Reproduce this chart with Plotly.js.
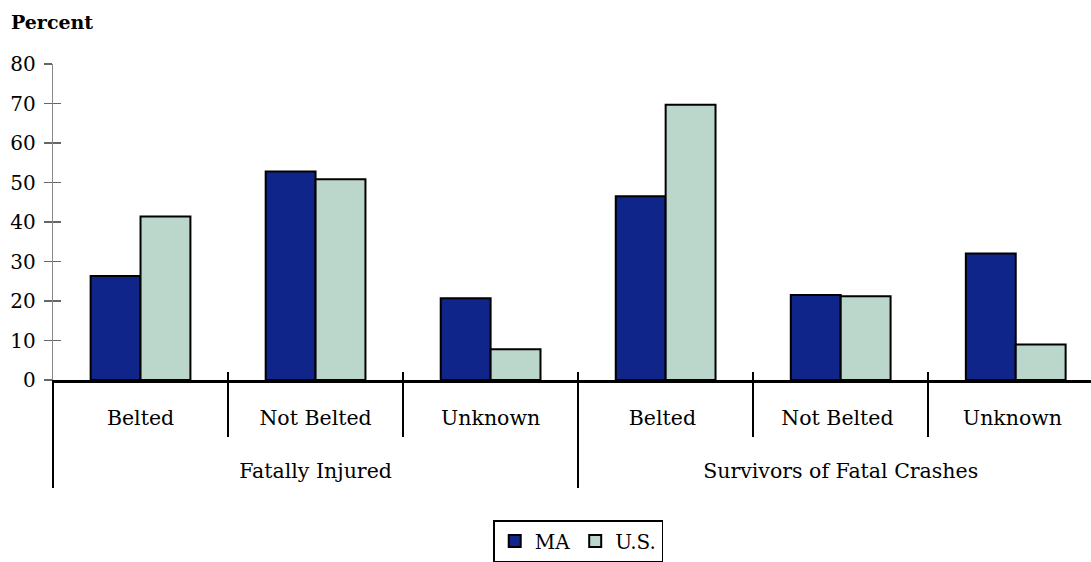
<!DOCTYPE html>
<html><head><meta charset="utf-8">
<script src="https://cdn.plot.ly/plotly-3.0.1.min.js"></script>
<style>body{margin:0;background:#fff}#c{width:1091px;height:562px}</style>
</head><body><div id="c"></div>
<script>
const groupLabels = ["Fatally Injured", "Survivors of Fatal Crashes"];
const groupCenters = [1, 4];
const groupBoundaries = [-0.5, 2.5, 5.5];
const categories = ["Belted","Not Belted","Unknown","Belted ","Not Belted ","Unknown "];
const maValues = [26.3, 52.8, 20.7, 46.5, 21.5, 32.0];
const usValues = [41.4, 50.8, 7.8, 69.7, 21.2, 9.0];
const yTicks = [0,10,20,30,40,50,60,70,80];

const F = "DejaVu Serif";
const XR = [-0.5, 5.43];
const traces = [
  {type:'bar', name:'MA', x:categories, y:maValues, marker:{color:'#10258a', line:{color:'#000', width:2}}},
  {type:'bar', name:'U.S.', x:categories, y:usValues, marker:{color:'#bbd6cb', line:{color:'#000', width:2}}},
  {type:'bar', x:categories, y:maValues, xaxis:'x2', yaxis:'y2', opacity:0, showlegend:false, hoverinfo:'skip', marker:{color:'rgba(0,0,0,0)'}},
  {type:'scatter', mode:'none', x:groupCenters, y:[0,0], xaxis:'x3', yaxis:'y', showlegend:false, hoverinfo:'skip'},
  {type:'scatter', mode:'none', x:groupCenters, y:[0,0], xaxis:'x4', yaxis:'y', showlegend:false, hoverinfo:'skip'}
];
const layout = {
  width:1091, height:562,
  margin:{l:53, r:0, t:64, b:182},
  paper_bgcolor:'#fff', plot_bgcolor:'#fff',
  font:{family:F, size:20, color:'#000'},
  barmode:'group', bargap:0.43, bargroupgap:0,
  showlegend:true,
  legend:{orientation:'h', x:0.506, xanchor:'center', y:-0.445, yanchor:'top',
    bordercolor:'#000', borderwidth:1.5, font:{family:F, size:20}, tracegroupgap:0},
  xaxis:{type:'category', range:XR, showgrid:false, showline:true, linecolor:'#000', linewidth:2.5,
    ticks:'outside', tickson:'boundaries', ticklen:54, tickwidth:2, tickcolor:'#000',
    tickfont:{family:F, size:20.5}, ticklabelstandoff:18, zeroline:false},
  xaxis2:{type:'category', overlaying:'x', matches:'x', range:XR, showgrid:false, showline:false,
    ticks:'inside', tickson:'boundaries', ticklen:8, tickwidth:2, tickcolor:'#000', showticklabels:false},
  xaxis3:{type:'linear', overlaying:'x', anchor:'y', range:XR, showgrid:false, showline:false, zeroline:false,
    tickmode:'array', tickvals:groupBoundaries, ticks:'outside', ticklen:107, tickwidth:2, tickcolor:'#000', showticklabels:false},
  xaxis4:{type:'linear', overlaying:'x', anchor:'y', range:XR, showgrid:false, showline:false, zeroline:false,
    tickmode:'array', tickvals:groupCenters, ticktext:groupLabels, ticks:'', tickfont:{family:F, size:20.5}, ticklabelstandoff:76},
  yaxis:{range:[0,80], tickvals:yTicks, showgrid:false, zeroline:false, showline:true, linecolor:'#888', linewidth:1.2,
    ticks:'outside', ticklen:8, tickcolor:'#666', tickwidth:1.2, tickfont:{family:F, size:20}, ticklabelstandoff:4},
  yaxis2:{range:[0,80], tickvals:yTicks, overlaying:'y', matches:'y', showgrid:false, zeroline:false, showline:false,
    ticks:'inside', ticklen:8, tickcolor:'#666', tickwidth:1.2, showticklabels:false},
  annotations:[{text:'<b>Percent</b>', xref:'paper', yref:'paper', x:-0.042, y:1.133, xanchor:'left', yanchor:'middle',
    showarrow:false, font:{family:F, size:19}}]
};
Plotly.newPlot('c', traces, layout, {displayModeBar:false, staticPlot:true});
</script></body></html>
